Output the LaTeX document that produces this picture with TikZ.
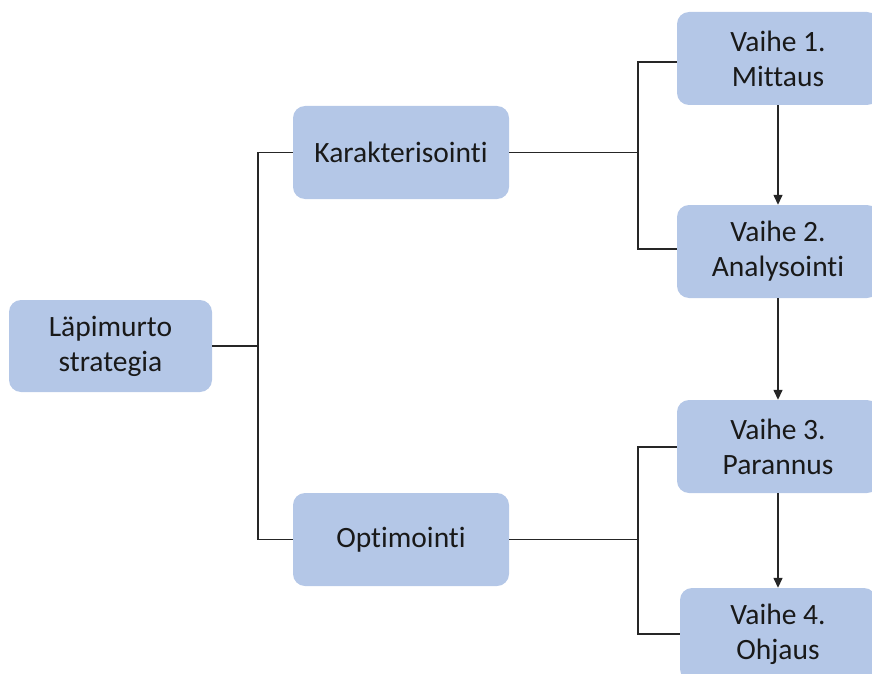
\documentclass[tikz,border=0pt]{standalone}
\usepackage{fontspec}
\setmainfont[Ligatures={NoCommon}]{Carlito}
\usetikzlibrary{arrows.meta}
\definecolor{boxfill}{HTML}{B4C7E7}
\begin{document}
\begin{tikzpicture}[x=1pt,y=-1pt,
  box/.style={draw=none,fill=boxfill,rounded corners=12pt,align=center,
    inner sep=0pt,font=\fontsize{29.5}{35}\selectfont,text=black!90},
  link/.style={draw=black!85,line width=1.4pt},
  flow/.style={link,-{Triangle[length=10pt,width=9pt]}}]
  \useasboundingbox (0,0) rectangle (872,674);
  \clip (0,0) rectangle (872,674);
  % tree nodes
  \node[box,minimum width=203pt,minimum height=92pt] (root) at (110.5,346) {Läpimurto\\strategia};
  \node[box,minimum width=216pt,minimum height=93pt] (kar) at (401,152.5) {Karakterisointi};
  \node[box,minimum width=216pt,minimum height=93pt] (opt) at (401,539.5) {Optimointi};
  \node[box,minimum width=202pt,minimum height=93pt] (v1) at (778,58.5) {Vaihe 1.\\Mittaus};
  \node[box,minimum width=202pt,minimum height=93pt] (v2) at (778,251.5) {Vaihe 2.\\Analysointi};
  \node[box,minimum width=202pt,minimum height=93pt] (v3) at (778,446.5) {Vaihe 3.\\Parannus};
  \node[box,minimum width=196pt,minimum height=93pt] (v4) at (778,634.5) {Vaihe 4.\\Ohjaus};
  % elbow connectors
  \draw[link] (root.east) -- (258,346);
  \draw[link] (kar.west) -| (258,346) |- (opt.west);
  \draw[link] (kar.east) -- (638,152.5);
  \draw[link] (v1.west |- 0,62) -| (638,152.5) |- (v2.west |- 0,249);
  \draw[link] (opt.east) -- (638,539.5);
  \draw[link] (v3.west |- 0,447) -| (638,539.5) |- (v4.west |- 0,634);
  % phase sequence
  \draw[flow] (v1.south) -- (v2.north);
  \draw[flow] (v2.south) -- (v3.north);
  \draw[flow] (v3.south) -- (v4.north);
\end{tikzpicture}
\end{document}
